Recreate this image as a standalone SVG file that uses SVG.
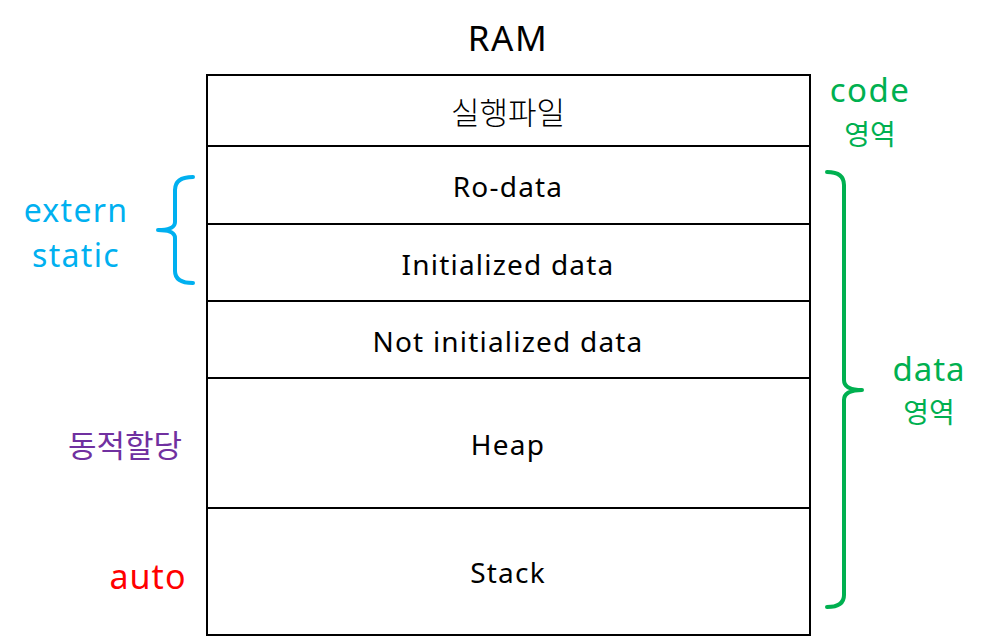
<svg xmlns="http://www.w3.org/2000/svg" width="1002" height="637" viewBox="0 0 1002 637">
<style>
text{font-family:"Noto Sans","Noto Sans CJK KR",sans-serif;}
.kr{font-family:"Noto Sans CJK KR",sans-serif}
.row{fill:#fff;stroke:#000;stroke-width:2}
.lbl{font-size:28px;letter-spacing:1.2px;fill:#000;text-anchor:middle;dominant-baseline:central}
.brace{fill:none;stroke-width:4;stroke-linecap:round;stroke-linejoin:round}
.g{fill:#00B050}.b{fill:#00B0F0}
.c{text-anchor:middle;dominant-baseline:central}
</style>
<rect width="1002" height="637" fill="#fff"/>
<text class="c" x="508" y="37" font-size="35" letter-spacing="1.5">RAM</text>
<g id="exe"><rect class="row" x="207" y="75" width="603" height="71"/><text class="c kr" x="508" y="110" font-size="31" font-weight="300">실행파일</text></g>
<g id="rodata"><rect class="row" x="207" y="146" width="603" height="78"/><text class="lbl" x="508" y="186">Ro-data</text></g>
<g id="initdata"><rect class="row" x="207" y="224" width="603" height="77"/><text class="lbl" x="508" y="264">Initialized data</text></g>
<g id="noinitdata"><rect class="row" x="207" y="301" width="603" height="77"/><text class="lbl" x="508" y="341">Not initialized data</text></g>
<g id="heap"><rect class="row" x="207" y="378" width="603" height="130"/><text class="lbl" x="508" y="444">Heap</text></g>
<g id="stack"><rect class="row" x="207" y="508" width="603" height="127"/><text class="lbl" x="508" y="572">Stack</text></g>
<g id="connectors">
<path class="brace" stroke="#00B0F0" d="M193,177 Q175,177 175,190 L175,222 Q175,230 158,230 Q175,230 175,238 L175,271 Q175,283 193,283"/>
<path class="brace" stroke="#00B050" d="M827,172 Q844,172 844,185 L844,380 Q844,390 862,390 Q844,390 844,400 L844,595 Q844,607 827,607"/>
</g>
<g id="code-label"><text class="g c" x="870" y="89" font-size="33" letter-spacing="1.5">code</text><text class="g c kr" x="870" y="133" font-size="28">영역</text></g>
<g id="data-label"><text class="g c" x="929" y="368" font-size="33" letter-spacing="1">data</text><text class="g c kr" x="929" y="411" font-size="28">영역</text></g>
<g id="extern-label"><text class="b c" x="76" y="209" font-size="32" letter-spacing="1.3">extern</text><text class="b c" x="76" y="254" font-size="32" letter-spacing="1.3">static</text></g>
<g id="dyn-label"><text class="c kr" x="125" y="443" font-size="31" fill="#7030A0">동적할당</text></g>
<g id="auto-label"><text class="c" x="148" y="576" font-size="34" letter-spacing="1" fill="#FF0000">auto</text></g>
</svg>
